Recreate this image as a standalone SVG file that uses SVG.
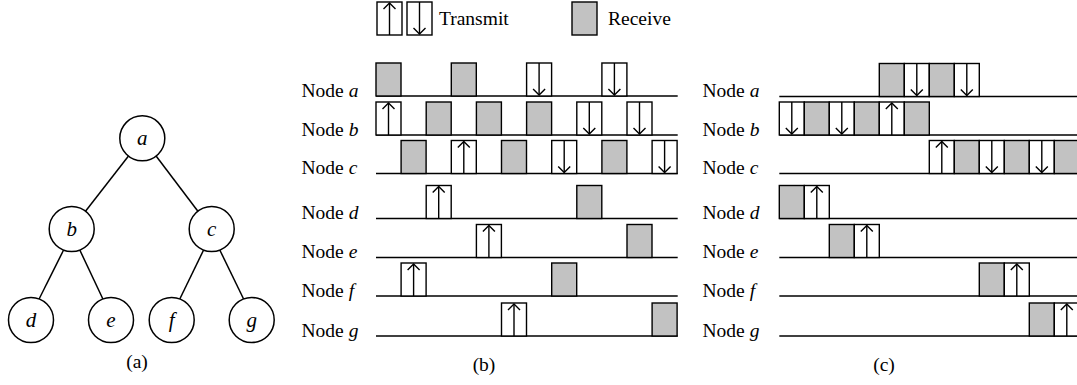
<svg xmlns="http://www.w3.org/2000/svg" xmlns:xlink="http://www.w3.org/1999/xlink" width="1077" height="385" viewBox="0 0 1077 385">
<style>
text{font-family:"Liberation Serif","Times New Roman",serif;fill:#000}
.lbl{font-size:19.5px}
.it{font-style:italic}
.nl{font-size:21px;font-style:italic;text-anchor:middle}
.cap{font-size:19.5px;text-anchor:middle}
.rx{fill:#c2c2c2;stroke:#000;stroke-width:1.4}
.tx{fill:#fff;stroke:#000;stroke-width:1.4}
.ar{fill:none;stroke:#000;stroke-width:1.4}
.bl{stroke:#000;stroke-width:1.5}
.nd{fill:#fff;stroke:#000;stroke-width:1.5}
.ed{stroke:#000;stroke-width:1.5}
</style>
<defs>
<g id="rx"><rect class="rx" x="0" y="0" width="25" height="33"/></g>
<g id="up"><rect class="tx" x="0" y="0" width="25" height="33"/><line class="ar" x1="12.5" y1="33" x2="12.5" y2="1"/><polyline class="ar" points="6.5,7 12.5,1 18.5,7"/></g>
<g id="dn"><rect class="tx" x="0" y="0" width="25" height="33"/><line class="ar" x1="12.5" y1="0" x2="12.5" y2="32"/><polyline class="ar" points="6.5,26 12.5,32 18.5,26"/></g>
</defs>

<!-- Legend -->
<g id="legend">
<use xlink:href="#up" x="377" y="2"/>
<use xlink:href="#dn" x="407" y="2"/>
<text class="lbl" x="439" y="24.5">Transmit</text>
<use xlink:href="#rx" x="572" y="2"/>
<text class="lbl" x="608" y="24.5">Receive</text>
</g>

<!-- (a) tree -->
<g id="tree-edges">
<line class="ed" x1="128.5" y1="156" x2="85.5" y2="211.3"/>
<line class="ed" x1="156.1" y1="156" x2="197.9" y2="211.3"/>
<line class="ed" x1="63.6" y1="250" x2="39.1" y2="299"/>
<line class="ed" x1="79.8" y1="250" x2="102.9" y2="299"/>
<line class="ed" x1="203.6" y1="250" x2="179.8" y2="299"/>
<line class="ed" x1="219.8" y1="250" x2="243.6" y2="299"/>
</g>
<g id="node-a"><circle class="nd" cx="142.3" cy="138.3" r="22.5"/><text class="nl" x="142.3" y="145">a</text></g>
<g id="node-b"><circle class="nd" cx="71.7" cy="229" r="22.5"/><text class="nl" x="71.7" y="236">b</text></g>
<g id="node-c"><circle class="nd" cx="211.7" cy="229" r="22.5"/><text class="nl" x="211.7" y="236">c</text></g>
<g id="node-d"><circle class="nd" cx="31" cy="320" r="22.5"/><text class="nl" x="31" y="327">d</text></g>
<g id="node-e"><circle class="nd" cx="111" cy="320" r="22.5"/><text class="nl" x="111" y="327">e</text></g>
<g id="node-f"><circle class="nd" cx="171.7" cy="320" r="22.5"/><text class="nl" x="171.7" y="327">f</text></g>
<g id="node-g"><circle class="nd" cx="251.7" cy="320" r="22.5"/><text class="nl" x="251.7" y="327">g</text></g>
<text class="cap" x="137" y="368">(a)</text>

<!-- (b) timing -->
<g id="panel-b">
<g id="b-row-a">
<text class="lbl" x="301.5" y="97">Node <tspan class="it">a</tspan></text>
<line class="bl" x1="376" y1="96" x2="677.7" y2="96"/>
<use xlink:href="#rx" x="376" y="63"/>
<use xlink:href="#rx" x="451.3" y="63"/>
<use xlink:href="#dn" x="526.6" y="63"/>
<use xlink:href="#dn" x="601.9" y="63"/>
</g>
<g id="b-row-b">
<text class="lbl" x="301.5" y="135.5">Node <tspan class="it">b</tspan></text>
<line class="bl" x1="376" y1="135" x2="677.7" y2="135"/>
<use xlink:href="#up" x="376" y="102"/>
<use xlink:href="#rx" x="426.2" y="102"/>
<use xlink:href="#rx" x="476.4" y="102"/>
<use xlink:href="#rx" x="526.6" y="102"/>
<use xlink:href="#dn" x="576.8" y="102"/>
<use xlink:href="#dn" x="627" y="102"/>
</g>
<g id="b-row-c">
<text class="lbl" x="301.5" y="174">Node <tspan class="it">c</tspan></text>
<line class="bl" x1="376" y1="173.5" x2="677.7" y2="173.5"/>
<use xlink:href="#rx" x="401.1" y="140.5"/>
<use xlink:href="#up" x="451.3" y="140.5"/>
<use xlink:href="#rx" x="501.5" y="140.5"/>
<use xlink:href="#dn" x="551.7" y="140.5"/>
<use xlink:href="#rx" x="601.9" y="140.5"/>
<use xlink:href="#dn" x="652.1" y="140.5"/>
</g>
<g id="b-row-d">
<text class="lbl" x="301.5" y="219">Node <tspan class="it">d</tspan></text>
<line class="bl" x1="376" y1="218.5" x2="677.7" y2="218.5"/>
<use xlink:href="#up" x="426.2" y="185.5"/>
<use xlink:href="#rx" x="576.8" y="185.5"/>
</g>
<g id="b-row-e">
<text class="lbl" x="301.5" y="258">Node <tspan class="it">e</tspan></text>
<line class="bl" x1="376" y1="257.5" x2="677.7" y2="257.5"/>
<use xlink:href="#up" x="476.4" y="224.5"/>
<use xlink:href="#rx" x="627" y="224.5"/>
</g>
<g id="b-row-f">
<text class="lbl" x="301.5" y="296.5">Node <tspan class="it">f</tspan></text>
<line class="bl" x1="376" y1="296" x2="677.7" y2="296"/>
<use xlink:href="#up" x="401.1" y="263"/>
<use xlink:href="#rx" x="551.7" y="263"/>
</g>
<g id="b-row-g">
<text class="lbl" x="301.5" y="336.5">Node <tspan class="it">g</tspan></text>
<line class="bl" x1="376" y1="336" x2="677.7" y2="336"/>
<use xlink:href="#up" x="501.5" y="303"/>
<use xlink:href="#rx" x="652.1" y="303"/>
</g>
</g>
<text class="cap" x="484" y="371">(b)</text>

<!-- (c) timing -->
<g id="panel-c">
<g id="c-row-a">
<text class="lbl" x="702.5" y="97">Node <tspan class="it">a</tspan></text>
<line class="bl" x1="779.3" y1="96.5" x2="1077" y2="96.5"/>
<use xlink:href="#rx" x="879.3" y="63.5"/>
<use xlink:href="#dn" x="904.3" y="63.5"/>
<use xlink:href="#rx" x="929.3" y="63.5"/>
<use xlink:href="#dn" x="954.3" y="63.5"/>
</g>
<g id="c-row-b">
<text class="lbl" x="702.5" y="135.5">Node <tspan class="it">b</tspan></text>
<line class="bl" x1="779.3" y1="135" x2="1077" y2="135"/>
<use xlink:href="#dn" x="779.3" y="102"/>
<use xlink:href="#rx" x="804.3" y="102"/>
<use xlink:href="#dn" x="829.3" y="102"/>
<use xlink:href="#rx" x="854.3" y="102"/>
<use xlink:href="#up" x="879.3" y="102"/>
<use xlink:href="#rx" x="904.3" y="102"/>
</g>
<g id="c-row-c">
<text class="lbl" x="702.5" y="174">Node <tspan class="it">c</tspan></text>
<line class="bl" x1="779.3" y1="173.5" x2="1077" y2="173.5"/>
<use xlink:href="#up" x="929.3" y="140.5"/>
<use xlink:href="#rx" x="954.3" y="140.5"/>
<use xlink:href="#dn" x="979.3" y="140.5"/>
<use xlink:href="#rx" x="1004.3" y="140.5"/>
<use xlink:href="#dn" x="1029.3" y="140.5"/>
<use xlink:href="#rx" x="1054.3" y="140.5"/>
</g>
<g id="c-row-d">
<text class="lbl" x="702.5" y="219">Node <tspan class="it">d</tspan></text>
<line class="bl" x1="779.3" y1="218.5" x2="1077" y2="218.5"/>
<use xlink:href="#rx" x="779.3" y="185.5"/>
<use xlink:href="#up" x="804.3" y="185.5"/>
</g>
<g id="c-row-e">
<text class="lbl" x="702.5" y="258">Node <tspan class="it">e</tspan></text>
<line class="bl" x1="779.3" y1="257.5" x2="1077" y2="257.5"/>
<use xlink:href="#rx" x="829.3" y="224.5"/>
<use xlink:href="#up" x="854.3" y="224.5"/>
</g>
<g id="c-row-f">
<text class="lbl" x="702.5" y="296.5">Node <tspan class="it">f</tspan></text>
<line class="bl" x1="779.3" y1="296" x2="1077" y2="296"/>
<use xlink:href="#rx" x="979.3" y="263"/>
<use xlink:href="#up" x="1004.3" y="263"/>
</g>
<g id="c-row-g">
<text class="lbl" x="702.5" y="336.5">Node <tspan class="it">g</tspan></text>
<line class="bl" x1="779.3" y1="336" x2="1077" y2="336"/>
<use xlink:href="#rx" x="1029.3" y="303"/>
<use xlink:href="#up" x="1054.3" y="303"/>
</g>
</g>
<text class="cap" x="884" y="371">(c)</text>
</svg>
